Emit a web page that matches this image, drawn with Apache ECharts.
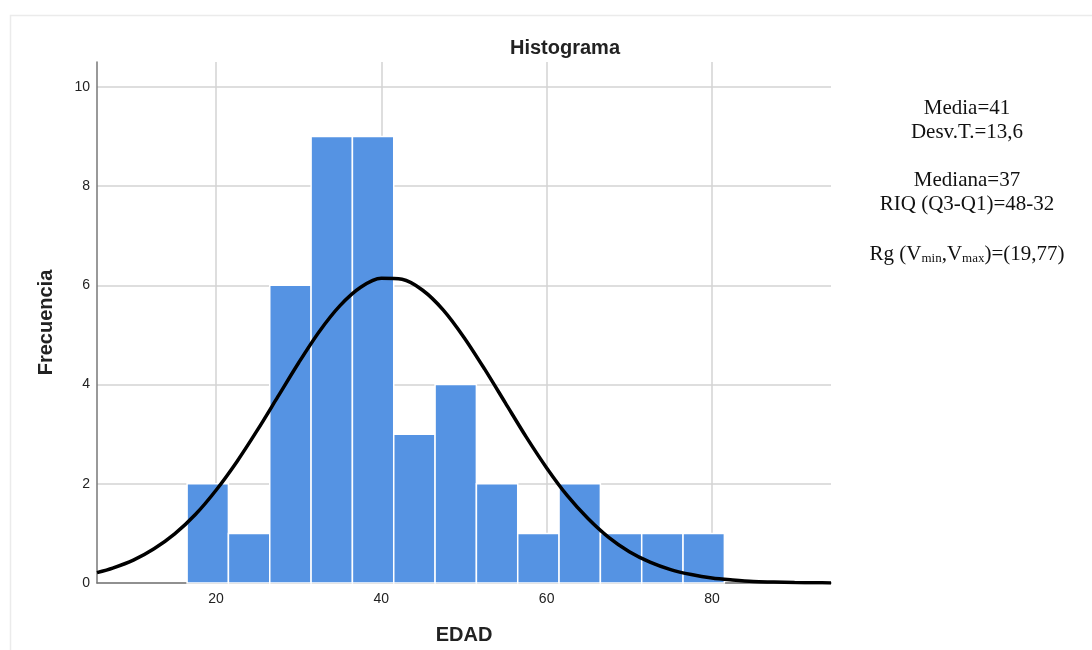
<!DOCTYPE html>
<html>
<head>
<meta charset="utf-8">
<script src="https://cdn.jsdelivr.net/npm/echarts@6/dist/echarts.min.js"></script>
<style>html,body{margin:0;padding:0;background:#fff}#c{width:1092px;height:650px}</style>
</head>
<body>
<div id="c"></div>
<script>
// Histogram bins (centres of 5-year bins) and frequencies
const binCenters = [19, 24, 29, 34, 39, 44, 49, 54, 59, 64, 69, 74, 79];
const counts     = [2, 1, 6, 9, 9, 3, 4, 2, 1, 2, 1, 1, 1];
const binWidth = 5;
// Normal curve
const curveX = [5.6, 7.5, 10, 12.5, 15, 17.5, 20, 22.5, 25, 27.5, 30, 32.5, 35, 37.5, 40, 42.5, 45, 47.5, 50, 52.5, 55, 57.5, 60, 62.5, 65, 67.5, 70, 72.5, 75, 77.5, 80, 82.5, 85, 87.5, 90, 92.5, 94.4];
const curveY = [0.21, 0.30, 0.46, 0.69, 0.99, 1.38, 1.87, 2.44, 3.08, 3.76, 4.44, 5.07, 5.59, 5.96, 6.14, 6.12, 5.90, 5.50, 4.95, 4.31, 3.63, 2.95, 2.32, 1.76, 1.30, 0.92, 0.63, 0.42, 0.27, 0.17, 0.10, 0.06, 0.03, 0.02, 0.01, 0.005, 0.0];
const xTicks = [20, 40, 60, 80];
const yTicks = [0, 2, 4, 6, 8, 10];
const statsLines = ['Media=41', 'Desv.T.=13,6', 'Mediana=37', 'RIQ (Q3-Q1)=48-32'];

const chart = echarts.init(document.getElementById('c'), null, {renderer: 'canvas'});
const labelFont = {fontFamily: 'Liberation Sans', fontSize: 14, color: '#222'};
const serif = 'Liberation Serif';
const statsY = [108, 132, 180, 204];

const graphics = [
  {type: 'rect', shape: {x: 10.5, y: 15.5, width: 1200, height: 800}, style: {fill: 'none', stroke: '#ebebeb', lineWidth: 1.5}, silent: true, z: -10}
];
statsLines.forEach((t, i) => graphics.push({
  type: 'text', x: 967, y: statsY[i],
  style: {text: t, font: '21px "' + serif + '"', fill: '#111', textAlign: 'center', textVerticalAlign: 'middle'}
}));
graphics.push({
  type: 'text', x: 967, y: 253,
  style: {
    text: '{n|Rg (V}{s|min}{n|,V}{s|max}{n|)=(19,77)}',
    textAlign: 'center', textVerticalAlign: 'middle',
    rich: {
      n: {fontFamily: serif, fontSize: 21, fill: '#111', color: '#111', lineHeight: 24, verticalAlign: 'bottom'},
      s: {fontFamily: serif, fontSize: 13, fill: '#111', color: '#111', lineHeight: 24, verticalAlign: 'bottom'}
    }
  }
});

chart.setOption({
  animation: false,
  backgroundColor: '#fff',
  title: {
    text: 'Histograma', left: 560, top: 33, textAlign: 'center',
    textStyle: {fontFamily: 'Liberation Sans', fontWeight: 'bold', fontSize: 20, color: '#222'}
  },
  grid: {left: 97, right: 261, top: 62, bottom: 67, containLabel: false, outerBoundsMode: 'none'},
  xAxis: {
    type: 'value', min: 5.6, max: 94.4,
    name: 'EDAD', nameLocation: 'middle', nameGap: 42,
    nameTextStyle: {fontFamily: 'Liberation Sans', fontWeight: 'bold', fontSize: 20, color: '#222'},
    axisLine: {show: true, lineStyle: {color: '#777', width: 1.5}},
    axisTick: {show: false, customValues: xTicks},
    axisLabel: Object.assign({customValues: xTicks, margin: 9}, labelFont),
    splitLine: {show: true, lineStyle: {color: '#d3d3d3', width: 1.5}}
  },
  yAxis: {
    type: 'value', min: 0, max: 10.5,
    name: 'Frecuencia', nameLocation: 'middle', nameGap: 41, nameRotate: 90,
    nameTextStyle: {fontFamily: 'Liberation Sans', fontWeight: 'bold', fontSize: 20, color: '#222'},
    axisLine: {show: true, lineStyle: {color: '#777', width: 1.5}},
    axisTick: {show: false, customValues: yTicks},
    axisLabel: Object.assign({customValues: yTicks, margin: 7}, labelFont),
    splitLine: {show: true, lineStyle: {color: '#d3d3d3', width: 1.5}}
  },
  series: [
    {
      type: 'custom',
      data: binCenters.map((c, i) => [c, counts[i]]),
      encode: {x: 0, y: 1},
      renderItem: function (params, api) {
        const x = api.value(0), v = api.value(1);
        const p0 = api.coord([x - binWidth / 2, 0]);
        const p1 = api.coord([x + binWidth / 2, v]);
        return {
          type: 'rect',
          shape: {x: p0[0], y: p1[1], width: p1[0] - p0[0], height: p0[1] - p1[1]},
          style: {fill: '#5593e3', stroke: '#ffffff', lineWidth: 1.5}
        };
      },
      z: 2
    },
    {
      type: 'line',
      data: curveX.map((x, i) => [x, curveY[i]]),
      smooth: 0.3,
      showSymbol: false,
      lineStyle: {color: '#000', width: 3.5},
      z: 3
    }
  ],
  graphic: graphics
});
</script>
</body>
</html>
